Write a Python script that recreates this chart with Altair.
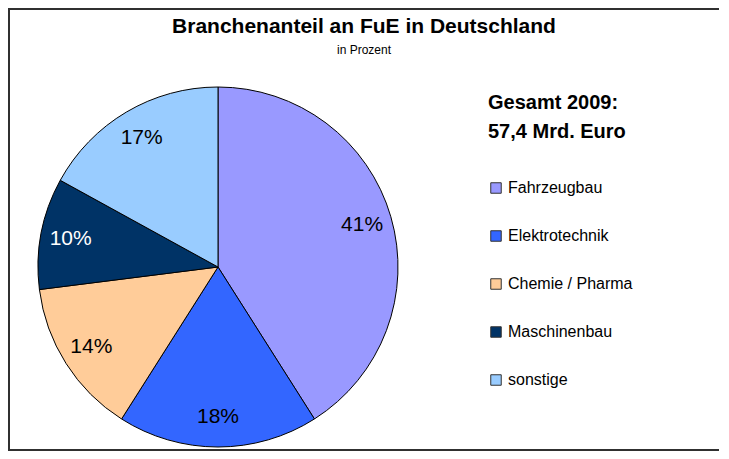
import altair as alt
import pandas as pd

categories = ["Fahrzeugbau", "Elektrotechnik", "Chemie / Pharma", "Maschinenbau", "sonstige"]
values = [41, 18, 14, 10, 17]
labels = ["41%", "18%", "14%", "10%", "17%"]
colors = ["#9999FF", "#3366FF", "#FFCC99", "#003366", "#99CCFF"]
label_colors = ["black", "black", "black", "white", "black"]

title_text = "Branchenanteil an FuE in Deutschland"
subtitle_text = "in Prozent"
legend_title = ["Gesamt 2009:", "57,4 Mrd. Euro"]

FONT = "Liberation Sans"
W, H = 713, 443
CX, CY, R = 210, 259, 180
BORDER = "#303030"

df = pd.DataFrame({
    "idx": list(range(len(categories))),
    "cat": categories,
    "value": values,
    "label": labels,
    "lc": label_colors,
})
one = pd.DataFrame({"k": [0]})

base = alt.Chart(df)

pie = base.mark_arc(radius=R, stroke="black", strokeWidth=1).encode(
    theta=alt.Theta("value:Q", stack=True),
    order=alt.Order("idx:Q", sort="ascending"),
    color=alt.Color(
        "cat:N",
        scale=alt.Scale(domain=categories, range=colors),
        sort=categories,
        legend=alt.Legend(
            title=legend_title,
            orient="none",
            legendX=480,
            legendY=85,
            symbolType="square",
            symbolSize=110,
            symbolStrokeColor="#333333",
            symbolStrokeWidth=1,
            labelFont=FONT,
            labelFontSize=16,
            labelColor="black",
            labelOffset=4,
            labelLimit=300,
            titleFont=FONT,
            titleFontSize=20,
            titleFontWeight="bold",
            titleColor="black",
            titleLineHeight=29,
            titleLimit=300,
            titlePadding=38,
            rowPadding=32,
        ),
    ),
    x=alt.value(CX),
    y=alt.value(CY),
)

pie_labels = base.mark_text(radius=150, fontSize=21, font=FONT).encode(
    theta=alt.Theta("value:Q", stack=True),
    order=alt.Order("idx:Q", sort="ascending"),
    text=alt.Text("label:N"),
    color=alt.condition(alt.datum.lc == "white", alt.value("white"), alt.value("black")),
    x=alt.value(CX),
    y=alt.value(CY),
)

title = alt.Chart(one).mark_text(
    text=title_text, font=FONT, fontSize=21, fontWeight="bold", align="center",
    baseline="alphabetic", color="black"
).encode(x=alt.value(356), y=alt.value(25))

subtitle = alt.Chart(one).mark_text(
    text=subtitle_text, font=FONT, fontSize=12, align="center",
    baseline="alphabetic", color="black"
).encode(x=alt.value(356), y=alt.value(46))

border_top = alt.Chart(one).mark_rule(color=BORDER, strokeWidth=2).encode(
    x=alt.value(0), x2=alt.value(W - 2), y=alt.value(1)
)
border_left = alt.Chart(one).mark_rule(color=BORDER, strokeWidth=2).encode(
    x=alt.value(1), y=alt.value(0), y2=alt.value(H)
)
border_bottom = alt.Chart(one).mark_rule(color=BORDER, strokeWidth=2).encode(
    x=alt.value(0), x2=alt.value(W - 2), y=alt.value(H - 1)
)

chart = alt.layer(
    pie, pie_labels, title, subtitle, border_top, border_left, border_bottom
).properties(
    width=W, height=H, padding=0, autosize=alt.AutoSizeParams(type="none"),
    background="white",
).configure_view(strokeWidth=0, stroke="transparent")

chart.save("out.html", embed_options={"renderer": "svg", "actions": False})
